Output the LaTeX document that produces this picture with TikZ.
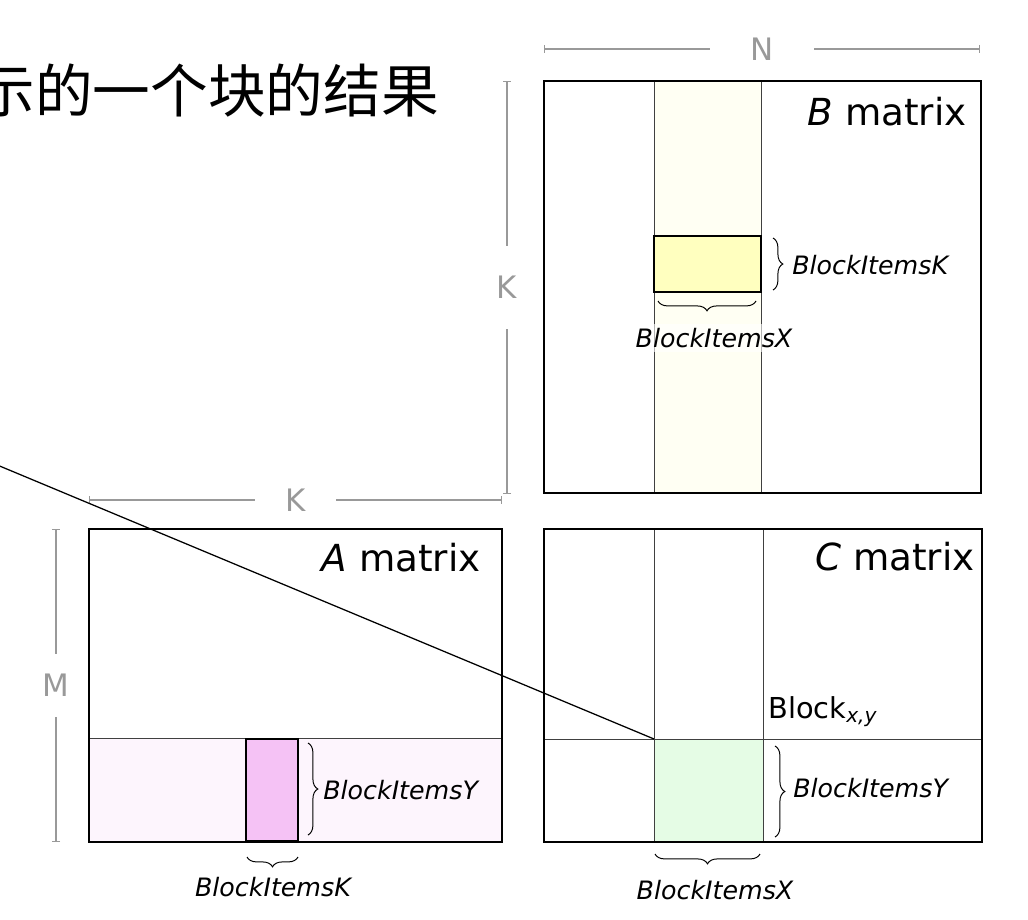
\documentclass[tikz,border=0pt]{standalone}
\usepackage{fontspec}
\setmainfont{DejaVu Sans}
\newfontfamily\cjk{Noto Sans CJK SC}
\usetikzlibrary{arrows.meta,decorations.pathreplacing}

\definecolor{stripey}{HTML}{FFFFF3}
\definecolor{blocky}{HTML}{FFFFBF}
\definecolor{bandp}{HTML}{FDF5FD}
\definecolor{blockp}{HTML}{F5C2F5}
\definecolor{blockg}{HTML}{E5FCE5}
\definecolor{dimgray}{HTML}{999999}

\begin{document}
\begin{tikzpicture}[x=0.025cm, y=-0.025cm,
  mat/.style={draw, line width=1.4pt},
  gridline/.style={draw=black!75, line width=0.7pt},
  dimline/.style={draw=dimgray, line width=1pt, {Bar[width=0.2cm]}-{Bar[width=0.2cm]}},
  dimlab/.style={fill=white, text=dimgray, font=\fontsize{22}{22}\selectfont, inner sep=0pt},
  brc/.style={decorate, decoration={brace, amplitude=7pt}, line width=0.7pt},
  lab/.style={font=\fontsize{18}{18}\selectfont\itshape, inner sep=0pt},
  matname/.style={font=\fontsize{26.5}{26.5}\selectfont, inner sep=0pt, anchor=base east}]
  \useasboundingbox (0,0) rectangle (1028,920);

  % title
  \node[anchor=base east, inner sep=0pt, font=\cjk\fontsize{41}{41}\selectfont] (ttl) at (439,113) {示的一个块的结果};

  % dimensions
  \draw[dimline] (544,49) -- node[dimlab, minimum width=2.575cm] (dimN) {N} (980,49);
  \draw[dimline] (507,81) -- node[dimlab, minimum height=2.075cm] (dimKb) {K} (507,494);
  \draw[dimline] (89,500) -- node[dimlab, minimum width=2cm] (dimKa) {K} (502,500);
  \draw[dimline] (56,529) -- node[dimlab, minimum height=1.55cm] (dimM) {M} (56,842);

  % B matrix
  \fill[stripey] (654,81) rectangle (761,493);
  \draw[gridline] (654,81) -- (654,493) (761,81) -- (761,493);
  \draw[mat, fill=blocky] (654,236) rectangle (761,292);
  \draw[mat] (544,81) rectangle (981,493);
  \node[matname] (Bname) at (967,126) {\textit{B} matrix};

  % A matrix
  \fill[bandp] (89,738) rectangle (502,842);
  \draw[gridline] (89,738) -- (502,738);
  \draw[mat, fill=blockp] (246,739) rectangle (298,841);
  \draw[mat] (89,529) rectangle (502,842);
  \node[matname] (Aname) at (481,571) {\textit{A} matrix};

  % C matrix
  \fill[blockg] (654,739) rectangle (763,842);
  \draw[gridline] (654,529) -- (654,842) (763,529) -- (763,842) (544,739) -- (982,739);
  \draw[mat] (544,529) rectangle (982,842);
  \node[matname] (Cname) at (975,570) {\textit{C} matrix};
  \node[anchor=base west, inner sep=0pt, font=\fontsize{20.5}{20.5}\selectfont] (bxy) at (768,718) {Block\textsubscript{\itshape x,y}};

  % braces and labels
  \draw[brc] (773,238) -- (773,290);
  \node[lab, anchor=west] (bkB) at (792,265) {BlockItemsK};
  \draw[brc] (756,301) -- (658,301);
  \node[lab, fill=white, fill opacity=0.6, text opacity=1, inner ysep=3pt] (bxB) at (714,338) {BlockItemsX};

  \draw[brc] (308,743) -- (308,835);
  \node[lab, anchor=west] (byA) at (323,790) {BlockItemsY};
  \draw[brc] (298,857) -- (247,857);
  \node[lab] (bkA) at (273,887) {BlockItemsK};

  \draw[brc] (775,746) -- (775,837);
  \node[lab, anchor=west] (byC) at (793,788) {BlockItemsY};
  \draw[brc] (760,854) -- (655,854);
  \node[lab] (bxC) at (715,890) {BlockItemsX};

  % pointer to the block
  \coordinate (lnstart) at (-10,462);
  \coordinate (cblk) at (654,739);
  \draw[line width=0.9pt] (lnstart) -- (cblk);
\end{tikzpicture}
\end{document}
